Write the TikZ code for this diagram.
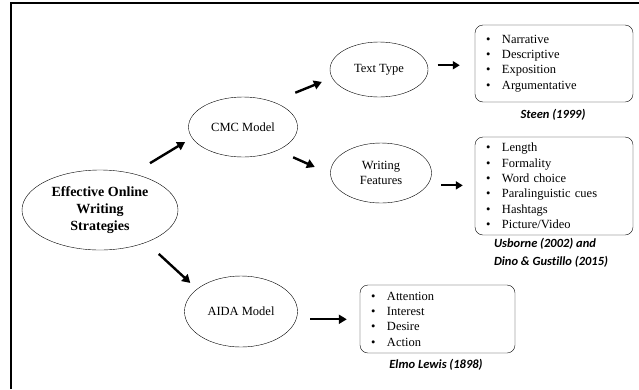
\documentclass[tikz,border=0pt]{standalone}
\usepackage{fontspec}
\setmainfont{Liberation Serif}
\newfontfamily\citefont[Ligatures=NoCommon]{Carlito}
\usetikzlibrary{shapes.geometric,arrows.meta}

\newcommand{\itm}[1]{\makebox[16pt][l]{\textbullet}#1}

\tikzset{
  oval/.style={draw, thin, ellipse, inner sep=0pt, align=center,
    font=\fontsize{12.5}{15}\selectfont},
  listbox/.style={draw, thin, rounded corners=8pt, align=left, inner xsep=11pt,
    inner ysep=0pt, font=\fontsize{12.5}{15.3}\selectfont},
  cite/.style={align=left, font=\citefont\bfseries\itshape\fontsize{12.5}{18}\selectfont},
  arr/.style={line width=2.4pt, -{Triangle[length=8pt,width=9pt]}},
  harr/.style={line width=2pt, -{Triangle[length=7pt,width=8pt]}}
}

\begin{document}
\begin{tikzpicture}[x=1pt,y=-1pt]
\useasboundingbox (0,0) rectangle (639,389);
\draw[line width=1.6pt] (11,389) -- (11,3) -- (639,3);

% ovals
\node[oval, minimum width=156pt, minimum height=80pt,
  font=\fontsize{14}{17}\selectfont\bfseries] (eff) at (100,210)
  {Effective Online\\Writing\\Strategies};
\node[oval, minimum width=109pt, minimum height=60pt] (cmc) at (243,127) {CMC Model};
\node[oval, minimum width=98pt, minimum height=55pt] (ttype) at (379,69.5) {Text Type};
\node[oval, minimum width=101pt, minimum height=60pt] (wfeat) at (381,173) {Writing\\Features};
\node[oval, minimum width=113pt, minimum height=71pt] (aida) at (241,311.5) {AIDA Model};

% lists
\node[listbox, text width=136pt, minimum height=77pt] (ttlist) at (554,63.5)
  {\itm{Narrative}\\\itm{Descriptive}\\\itm{Exposition}\\\itm{Argumentative}};
\node[listbox, text width=136pt, minimum height=98pt] (wflist) at (554,186)
  {\itm{Length}\\\itm{Formality}\\\itm{Word choice}\\\itm{Paralinguistic cues}\\\itm{Hashtags}\\\itm{Picture/Video}};
\node[listbox, text width=133pt, minimum height=68pt] (aidalist) at (437.5,319)
  {\itm{Attention}\\\itm{Interest}\\\itm{Desire}\\\itm{Action}};

% sources
\node[cite] (steen) at (553,115) {Steen (1999)};
\node[cite] (usb) at (551,253) {Usborne (2002) and\\Dino \& Gustillo (2015)};
\node[cite] (elmo) at (436,365) {Elmo Lewis (1898)};

% arrows
\draw[arr, shorten <=20pt, shorten >=8pt] (eff.48) -- (cmc.192);
\draw[arr, shorten <=24pt, shorten >=11pt] (cmc.40) -- (ttype.190);
\draw[arr, shorten <=17pt, shorten >=17pt] (cmc.-34) -- (wfeat.181);
\draw[arr, shorten <=17pt, shorten >=9pt] (eff.-35) -- (aida.153);
\draw[harr, shorten <=10pt, shorten >=15pt] (ttype.5) -- (ttype.5 -| ttlist.west);
\draw[harr, shorten <=14pt, shorten >=12pt] (wfeat.-15) -- (wfeat.-15 -| wflist.west);
\draw[arr, shorten <=14pt, shorten >=13pt] (aida.-8) -- (aida.-8 -| aidalist.west);
\end{tikzpicture}
\end{document}
